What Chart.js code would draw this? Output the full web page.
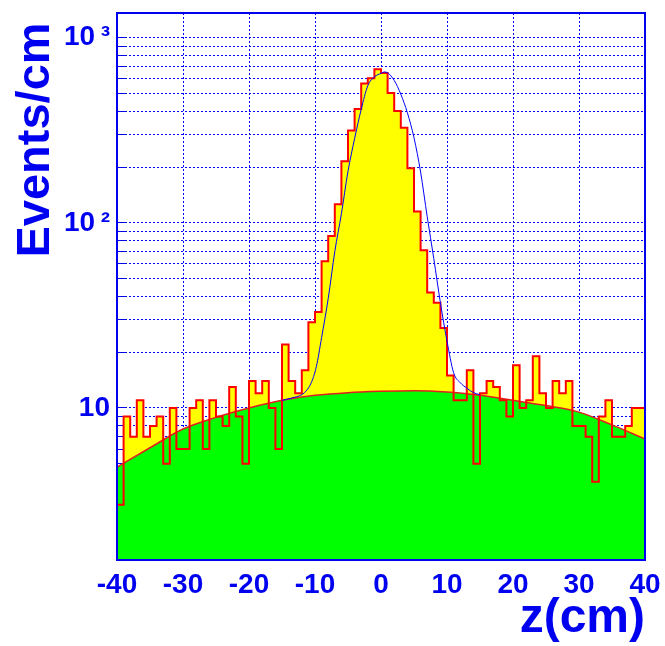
<!DOCTYPE html>
<html lang="en">
<head>
<meta charset="UTF-8" />
<title>Events/cm vs z</title>
<script src="https://cdn.jsdelivr.net/npm/chart.js"></script>
<style>
  body {
    margin: 0;
    background: #ffffff;
  }
  #chart-box {
    width: 665px;
    height: 646px;
  }
</style>
</head>
<body>

<div id="chart-box">
  <canvas id="zChart" width="665" height="646"></canvas>
</div>

<script>
  // histogram: 80 bins of 1 cm from -40 to 40
  const binLow = [];
  for (let i = 0; i < 80; i++) binLow.push(-40 + i);
  const counts = [
    5, 3, 9, 7, 11, 7, 8, 9, 5, 10,
    6, 6, 10, 11, 6, 11, 9, 8, 13, 9,
    5, 14, 12, 14, 10, 6, 22, 14, 12, 16,
    29, 33, 62, 85, 126, 215, 315, 412, 565, 604,
    675, 644, 503, 402, 326, 197, 115, 71, 42, 37,
    27, 15, 11, 11, 16, 5, 12, 14, 13, 11,
    9, 17, 10, 11, 19, 12, 10, 14, 12, 14,
    8, 8, 7, 4, 9, 11, 7, 7, 8, 10
  ];

  // background curve (green)
  const bgZ   = [-40, -35, -30, -25, -20, -15, -10, -5, 0, 5, 10, 15, 20, 25, 30, 35, 40];
  const bgVal = [4.8, 6.1, 7.7, 8.9, 10.0, 11.0, 11.7, 12.1, 12.3, 12.4, 12.2, 11.7, 11.0, 10.3, 9.5, 8.1, 6.8];

  // full fit (blue)
  const fitZ   = [-15, -13.6, -11.6, -10.6, -9.8, -9, -8, -7, -6, -5, -4, -3, -2, -1, 0, 0.5, 1, 2, 3, 4, 5, 6, 7, 8, 9, 10, 11, 12, 13, 14, 15];
  const fitVal = [11.0, 11.3, 12.1, 13.6, 16.7, 24, 39, 70, 112, 190, 285, 410, 550, 614, 642, 653, 646, 588, 495, 393, 288, 188, 108, 64, 37, 23, 15.5, 13.7, 12.8, 12.1, 11.8];

  const xTicks = [-40, -30, -20, -10, 0, 10, 20, 30, 40];
  const yTicks = [2, 3, 4, 5, 6, 7, 8, 9, 10, 20, 30, 40, 50, 60, 70, 80, 90, 100,
                  200, 300, 400, 500, 600, 700, 800, 900, 1000];
  const yLabels = { 10: '10', 100: '10\u2009\u00b2', 1000: '10\u2009\u00b3' };

  const BLUE = '#0000f0';
  const FONT = "'Liberation Sans', Arial, sans-serif";

  const histPts = binLow.map((x, i) => ({ x: x, y: counts[i] }));
  histPts.push({ x: 40, y: counts[counts.length - 1] });
  const bgPts = bgZ.map((x, i) => ({ x: x, y: bgVal[i] }));
  const fitPts = fitZ.map((x, i) => ({ x: x, y: fitVal[i] }));

  // blue frame round the plot area
  const framePlugin = {
    id: 'frame',
    afterDraw(chart) {
      const a = chart.chartArea;
      const ctx = chart.ctx;
      ctx.save();
      ctx.strokeStyle = BLUE;
      ctx.lineWidth = 2;
      ctx.strokeRect(a.left, a.top, a.right - a.left, a.bottom - a.top);
      ctx.restore();
    }
  };

  new Chart(document.getElementById('zChart'), {
    type: 'line',
    data: {
      datasets: [
        {
          label: 'fit',
          data: fitPts,
          borderColor: '#0000ff',
          borderWidth: 1,
          pointRadius: 0,
          fill: false,
          cubicInterpolationMode: 'monotone',
          order: 0
        },
        {
          label: 'histogram',
          data: histPts,
          stepped: 'after',
          borderColor: '#ff0000',
          borderWidth: 2,
          pointRadius: 0,
          fill: false,
          order: 1
        },
        {
          label: 'background',
          data: bgPts,
          borderColor: '#e02020',
          backgroundColor: '#00ff00',
          borderWidth: 1.5,
          pointRadius: 0,
          fill: 'start',
          cubicInterpolationMode: 'monotone',
          order: 2
        },
        {
          label: 'histogram fill',
          data: histPts,
          stepped: 'after',
          borderWidth: 0,
          backgroundColor: '#ffff00',
          pointRadius: 0,
          fill: 'start',
          order: 3
        }
      ]
    },
    options: {
      responsive: false,
      animation: false,
      layout: { padding: { top: 13, right: 20, bottom: 0, left: 0 } },
      plugins: {
        legend: { display: false },
        tooltip: { enabled: false }
      },
      scales: {
        x: {
          type: 'linear',
          min: -40,
          max: 40,
          z: 1,
          afterBuildTicks: (scale) => {
            const t = [];
            for (let v = -40; v <= 40; v += 2) t.push({ value: v });
            scale.ticks = t;
          },
          afterFit: (scale) => {
            scale.height = 86;
            scale.paddingLeft = 0;
            scale.paddingRight = 0;
          },
          grid: {
            color: (c) => (c.tick && c.tick.value % 10 === 0 && Math.abs(c.tick.value) < 40) ? BLUE : 'rgba(0,0,0,0)',
            tickColor: BLUE,
            tickLength: -6,
            tickBorderDash: [],
            lineWidth: 1
          },
          border: { display: false, dash: [2, 2] },
          ticks: {
            autoSkip: false,
            maxRotation: 0,
            padding: 14,
            color: BLUE,
            font: { family: FONT, size: 28, weight: 'bold' },
            callback: (v) => xTicks.includes(v) ? String(v) : ''
          },
          title: {
            display: true,
            text: 'z(cm)',
            align: 'end',
            color: BLUE,
            padding: { top: 0, bottom: -2 },
            font: { family: FONT, size: 48, weight: 'bold' }
          }
        },
        y: {
          type: 'logarithmic',
          min: 1.51,
          max: 1359,
          z: 1,
          afterBuildTicks: (scale) => {
            scale.ticks = yTicks.map((v) => ({ value: v, major: v in yLabels }));
          },
          afterFit: (scale) => {
            scale.width = 117;
            scale.paddingTop = 0;
            scale.paddingBottom = 0;
          },
          grid: {
            color: BLUE,
            tickColor: BLUE,
            tickLength: -8,
            tickBorderDash: [],
            lineWidth: 1
          },
          border: { display: false, dash: [2, 2] },
          ticks: {
            autoSkip: false,
            padding: 15,
            color: BLUE,
            font: { family: FONT, size: 28, weight: 'bold' },
            callback: (v) => yLabels[v] || ''
          },
          title: {
            display: true,
            text: 'Events/cm\u2009',
            align: 'end',
            color: BLUE,
            padding: { top: 8, bottom: 0 },
            font: { family: FONT, size: 47, weight: 'bold' }
          }
        }
      }
    },
    plugins: [framePlugin]
  });
</script>

</body>
</html>
